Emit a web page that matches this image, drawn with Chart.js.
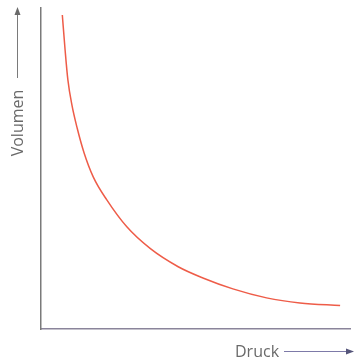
<!DOCTYPE html>
<html>
<head>
<meta charset="utf-8">
<script src="https://cdn.jsdelivr.net/npm/chart.js@4"></script>
<style>
  html, body { margin: 0; padding: 0; background: #fff; }
  #wrap { width: 355px; height: 360px; position: relative; }
</style>
</head>
<body>
<div id="wrap"><canvas id="boyleChart"></canvas></div>
<script>
// Druck (x) und Volumen (y)
const druck   = [0.69, 0.78, 0.87, 1.00, 1.17, 1.39, 1.69, 2.13, 2.77, 3.53, 4.44, 5.24, 6.21, 7.30, 8.38, 9.68];
const volumen = [9.78, 8.69, 7.76, 6.98, 6.26, 5.50, 4.74, 4.02, 3.19, 2.51, 1.94, 1.59, 1.25, 0.97, 0.81, 0.73];
const xTitle = 'Druck';
const yTitle = 'Volumen';

// Achsentitel mit Pfeilen
const axisArrows = {
    id: 'axisArrows',
    afterDraw(chart) {
        const ctx = chart.ctx;
        const area = chart.chartArea;
        ctx.save();
        ctx.font = '16px "Open Sans", sans-serif';
        ctx.fillStyle = '#6a6a6a';

        // y-Titel
        ctx.save();
        ctx.translate(area.left - 23, 123);
        ctx.rotate(-Math.PI / 2);
        ctx.textAlign = 'center';
        ctx.textBaseline = 'middle';
        ctx.fillText(yTitle, 0, 0);
        ctx.restore();

        ctx.strokeStyle = '#7a7a7a';
        ctx.fillStyle = '#6a6a6a';
        ctx.lineWidth = 1;
        ctx.beginPath();
        ctx.moveTo(area.left - 23.5, 78);
        ctx.lineTo(area.left - 23.5, 12);
        ctx.stroke();
        ctx.beginPath();
        ctx.moveTo(area.left - 23.5, 7);
        ctx.lineTo(area.left - 26.5, 15);
        ctx.lineTo(area.left - 20.5, 15);
        ctx.closePath();
        ctx.fill();

        // x-Titel
        ctx.fillStyle = '#6a6a6a';
        ctx.textAlign = 'left';
        ctx.textBaseline = 'alphabetic';
        ctx.fillText(xTitle, 235, 357);

        ctx.strokeStyle = '#7d7aa8';
        ctx.beginPath();
        ctx.moveTo(284, 351.5);
        ctx.lineTo(348, 351.5);
        ctx.stroke();
        ctx.fillStyle = '#55557a';
        ctx.beginPath();
        ctx.moveTo(354, 351.5);
        ctx.lineTo(346, 348.5);
        ctx.lineTo(346, 354.5);
        ctx.closePath();
        ctx.fill();
        ctx.restore();
    }
};

const ctx = document.getElementById('boyleChart').getContext('2d');
new Chart(ctx, {
    type: 'scatter',
    data: {
        datasets: [{
            label: yTitle,
            data: druck.map((p, i) => ({ x: p, y: volumen[i] })),
            showLine: true,
            borderColor: '#ee5c48',
            borderWidth: 1.5,
            pointRadius: 0,
            cubicInterpolationMode: 'monotone',
            fill: false
        }]
    },
    options: {
        responsive: true,
        maintainAspectRatio: false,
        animation: false,
        layout: {
            padding: { left: 41, top: 8, right: 5, bottom: 31 }
        },
        scales: {
            x: {
                min: 0,
                max: 10,
                ticks: { display: false },
                grid: { display: false, drawTicks: false },
                border: { display: true, color: '#8a849a', width: 1.5 }
            },
            y: {
                min: 0,
                max: 10,
                ticks: { display: false },
                grid: { display: false, drawTicks: false },
                border: { display: true, color: '#7a7a7a', width: 1.5 }
            }
        },
        plugins: {
            legend: { display: false },
            tooltip: { enabled: false }
        }
    },
    plugins: [axisArrows]
});
</script>
</body>
</html>
